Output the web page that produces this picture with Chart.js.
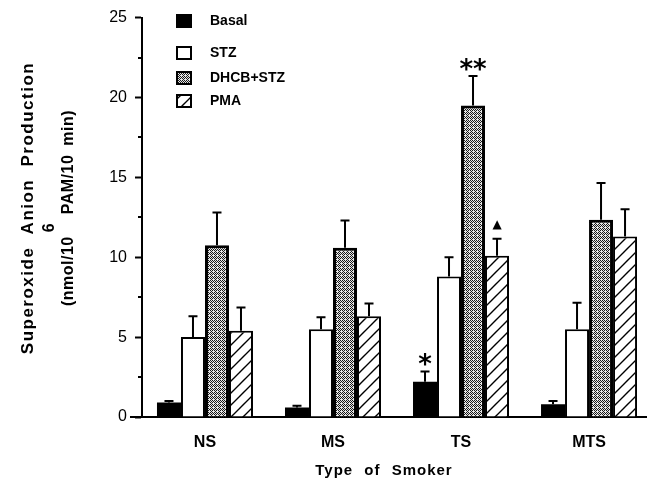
<!DOCTYPE html>
<html>
<head>
<meta charset="utf-8">
<script src="https://cdn.jsdelivr.net/npm/chart.js@4.4.1/dist/chart.umd.min.js"></script>
<style>
  html, body { margin: 0; padding: 0; background: #fff; }
  #wrap { width: 648px; height: 488px; }
</style>
</head>
<body>
<div id="wrap"><canvas id="chart" width="648" height="488"></canvas></div>
<script>
// --- data ---
const categories = ['NS', 'MS', 'TS', 'MTS'];
const seriesNames = ['Basal', 'STZ', 'DHCB+STZ', 'PMA'];
const basal = [0.9, 0.6, 2.2, 0.8];
const stz = [5.0, 5.5, 8.8, 5.5];
const dhcbStz = [10.75, 10.6, 19.5, 12.35];
const pma = [5.4, 6.3, 10.1, 11.3];
// error bars (upper SD only)
const basalErr = [0.1, 0.1, 0.65, 0.2];
const stzErr = [1.3, 0.75, 1.2, 1.65];
const dhcbStzErr = [2.05, 1.7, 1.85, 2.3];
const pmaErr = [1.45, 0.8, 1.05, 1.7];
const yTicks = [0, 5, 10, 15, 20, 25];
// significance marks: [series, category, text]
const marks = [[0, 2, '*'], [2, 2, '**'], [3, 2, '\u25B2']];

const FONT = "'Liberation Sans', Arial, Helvetica, sans-serif";
const values = [basal, stz, dhcbStz, pma];
const errors = [basalErr, stzErr, dhcbStzErr, pmaErr];

// --- fill patterns ---
function stipple() {
    const c = document.createElement('canvas');
    c.width = 4; c.height = 4;
    const g = c.getContext('2d');
    g.fillStyle = '#e6e6e6';
    g.fillRect(0, 0, 4, 4);
    g.fillStyle = '#1a1a1a';
    const dots = [[0,0],[2,0],[1,1],[0,2],[2,2],[3,3],[3,1]];
    dots.forEach(([x, y]) => g.fillRect(x, y, 1, 1));
    return g.createPattern(c, 'repeat');
}
function hatch() {
    const c = document.createElement('canvas');
    c.width = 12; c.height = 12;
    const g = c.getContext('2d');
    g.fillStyle = '#fff';
    g.fillRect(0, 0, 12, 12);
    g.strokeStyle = '#000';
    g.lineWidth = 1.4;
    g.beginPath();
    g.moveTo(-2, 14); g.lineTo(14, -2);
    g.moveTo(-2, 2); g.lineTo(2, -2);
    g.moveTo(10, 14); g.lineTo(14, 10);
    g.stroke();
    return g.createPattern(c, 'repeat');
}
const fills = ['#000', '#fff', stipple(), hatch()];

// --- extras drawn on top: error bars, marks, legend, axis titles, minor ticks ---
const extras = {
    id: 'extras',
    afterDatasetsDraw(chart) {
        const ctx = chart.ctx;
        const y = chart.scales.y;
        ctx.save();
        ctx.strokeStyle = '#000';
        ctx.lineWidth = 2;
        values.forEach((vals, i) => {
            const meta = chart.getDatasetMeta(i);
            meta.data.forEach((bar, j) => {
                const top = y.getPixelForValue(vals[j] + errors[i][j]);
                ctx.beginPath();
                ctx.moveTo(bar.x, bar.y);
                ctx.lineTo(bar.x, top);
                ctx.moveTo(bar.x - 4.5, top);
                ctx.lineTo(bar.x + 4.5, top);
                ctx.stroke();
            });
        });
        // significance marks
        ctx.fillStyle = '#000';
        ctx.textAlign = 'center';
        ctx.textBaseline = 'alphabetic';
        marks.forEach(([s, c, txt]) => {
            const bar = chart.getDatasetMeta(s).data[c];
            const top = y.getPixelForValue(values[s][c] + errors[s][c]);
            ctx.font = txt === '\u25B2' ? "12px 'DejaVu Sans'" : "bold 26px 'DejaVu Sans'";
            const m = ctx.measureText(txt);
            const gap = txt === '\u25B2' ? 9 : 5;
            ctx.fillText(txt, bar.x, top - gap - m.actualBoundingBoxDescent);
        });
        ctx.restore();
    },
    afterDraw(chart) {
        const ctx = chart.ctx;
        const y = chart.scales.y;
        const left = chart.chartArea.left;
        ctx.save();
        // minor ticks
        ctx.strokeStyle = '#000';
        ctx.lineWidth = 2;
        for (let v = 2.5; v < 25; v += 5) {
            const py = Math.round(y.getPixelForValue(v));
            ctx.beginPath();
            ctx.moveTo(left - 4, py);
            ctx.lineTo(left, py);
            ctx.stroke();
        }
        // x axis line runs a little past the y axis, as in the figure
        ctx.beginPath();
        ctx.moveTo(130, chart.chartArea.bottom);
        ctx.lineTo(left, chart.chartArea.bottom);
        ctx.stroke();
        // legend
        const rows = [21, 53, 78, 101];
        ctx.font = 'bold 14px ' + FONT;
        ctx.textAlign = 'left';
        ctx.textBaseline = 'middle';
        seriesNames.forEach((name, i) => {
            const ry = rows[i];
            ctx.fillStyle = fills[i];
            ctx.fillRect(177, ry - 6, 14, 12);
            ctx.lineWidth = 2;
            ctx.strokeStyle = '#000';
            ctx.strokeRect(177, ry - 6, 14, 12);
            ctx.fillStyle = '#000';
            ctx.fillText(name, 210, ry);
        });
        // x title
        ctx.font = 'bold 15px ' + FONT;
        ctx.letterSpacing = '1px';
        ctx.wordSpacing = '6px';
        ctx.textAlign = 'center';
        ctx.fillText('Type of Smoker', 384, 471);
        // y title
        ctx.translate(0, 208);
        ctx.rotate(-Math.PI / 2);
        ctx.font = 'bold 17px ' + FONT;
        ctx.letterSpacing = '1.5px';
        ctx.wordSpacing = '6px';
        ctx.textBaseline = 'alphabetic';
        ctx.fillText('Superoxide Anion Production', 0, 33);
        ctx.font = 'bold 16px ' + FONT;
        ctx.letterSpacing = '0.5px';
        ctx.wordSpacing = '4px';
        const l3a = '(nmol/10';
        const l3b = 'PAM/10 min)';
        const wa = ctx.measureText(l3a).width;
        const wb = ctx.measureText(l3b).width;
        const gapW = 22;
        const start = -(wa + gapW + wb) / 2;
        ctx.textAlign = 'left';
        ctx.fillText(l3a, start, 73);
        ctx.fillText(l3b, start + wa + gapW, 73);
        ctx.fillText('6', start + wa + 4, 54);
        ctx.restore();
    }
};

const datasets = seriesNames.map((name, i) => ({
    label: name,
    data: values[i].map((v, j) => ({ x: j, y: v })),
    backgroundColor: fills[i],
    borderColor: '#000',
    borderWidth: i === 0 ? 0 : (i === 2 ? 3 : 2),
    borderSkipped: 'start',
    categoryPercentage: 0.75,
    barPercentage: 1.0
}));

new Chart(document.getElementById('chart'), {
    type: 'bar',
    data: { datasets },
    options: {
        responsive: false,
        animation: false,
        devicePixelRatio: 1,
        layout: { padding: { top: 13, right: 2, left: 0, bottom: 0 } },
        plugins: { legend: { display: false }, tooltip: { enabled: false } },
        scales: {
            x: {
                type: 'linear',
                offset: false,
                min: -0.492,
                max: 3.445,
                afterBuildTicks: s => { s.ticks = categories.map((c, i) => ({ value: i })); },
                afterFit: s => { s.height = 71; },
                grid: { display: false, drawTicks: false },
                border: { display: true, color: '#000', width: 2 },
                ticks: {
                    padding: 16,
                    color: '#000',
                    font: { family: FONT, size: 16, weight: 'bold' },
                    callback: v => categories[v]
                }
            },
            y: {
                min: 0,
                max: 25,
                afterBuildTicks: s => { s.ticks = yTicks.map(v => ({ value: v })); },
                afterFit: s => { s.width = 142; },
                grid: { drawOnChartArea: false, tickLength: 7, tickWidth: 2, tickColor: '#000' },
                border: { display: true, color: '#000', width: 2 },
                ticks: {
                    padding: 8,
                    color: '#000',
                    font: { family: FONT, size: 16 }
                }
            }
        }
    },
    plugins: [extras]
});
</script>
</body>
</html>
